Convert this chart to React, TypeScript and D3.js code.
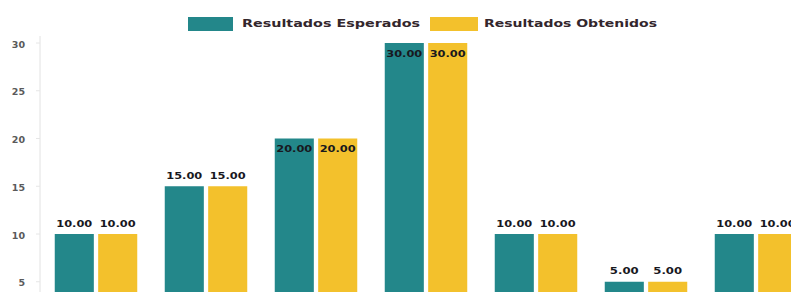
import React from "react";
import * as d3 from "d3";

const categories = ["Indicador 1", "Indicador 2", "Indicador 3", "Indicador 4", "Indicador 5", "Indicador 6", "Indicador 7"];
const esperados = [10, 15, 20, 30, 10, 5, 10];
const obtenidos = [10, 15, 20, 30, 10, 5, 10];
const seriesNames = ["Resultados Esperados", "Resultados Obtenidos"];
const yTicks = [5, 10, 15, 20, 25, 30];

const W = 791;
const H = 292;
const TEAL = "#23878a";
const YELLOW = "#f3c12c";

export default function App() {
  const x = d3.scaleBand<string>().domain(categories).range([41, 811]).paddingInner(0.25).paddingOuter(0.125);
  const xs = d3.scaleBand<string>().domain(seriesNames).range([0, x.bandwidth()]).paddingInner(0.1).paddingOuter(0);
  const y = d3.scaleLinear().domain([0, 30]).range([329.5, 43]);
  const series = [esperados, obtenidos];
  const colors = [TEAL, YELLOW];
  const yTop = y(30);

  return (
    <div style={{ position: "absolute", left: 0, top: 0 }}>
      <svg width={W} height={H} style={{ display: "block", background: "#fff" }}>
        {/* y axis */}
        <line x1={40} x2={40} y1={36} y2={H} stroke="#e2e2e2" strokeWidth={1} />
        {yTicks.map((t) => (
          <g key={t}>
            <line x1={36} x2={40} y1={y(t)} y2={y(t)} stroke="#e6e6e6" />
            <text x={25} y={y(t) + 2} textAnchor="end" dominantBaseline="middle" fontFamily="DejaVu Sans" fontWeight="bold" fontSize={9.5} fill="#5a5a5a">
              {t}
            </text>
          </g>
        ))}
        {/* bars */}
        {categories.map((c, i) => (
          <g key={c}>
            {series.map((s, j) => {
              const bx = (x(c) as number) + (xs(seriesNames[j]) as number);
              const by = y(s[i]);
              const inside = s[i] >= 20;
              const ly = inside ? Math.max(by + 11, yTop + 9) : by - 10;
              const label = s[i].toFixed(2);
              return (
                <g key={j}>
                  <rect x={bx} y={by} width={xs.bandwidth()} height={y(0) - by} fill={colors[j]} />
                  <text
                    x={bx + xs.bandwidth() / 2}
                    y={ly}
                    textAnchor="middle"
                    dominantBaseline="middle"
                    fontFamily="DejaVu Sans"
                    fontWeight="bold"
                    fontSize={9.5}
                    fill="#18181e"
                    textLength={label.length * 7.2}
                    lengthAdjust="spacingAndGlyphs"
                  >
                    {label}
                  </text>
                </g>
              );
            })}
          </g>
        ))}
        {/* legend */}
        <rect x={188} y={17} width={45} height={14} fill={TEAL} />
        <text x={242} y={24} dominantBaseline="middle" fontFamily="DejaVu Sans" fontWeight="bold" fontSize={10} fill="#33262c" textLength={178} lengthAdjust="spacingAndGlyphs">
          {seriesNames[0]}
        </text>
        <rect x={430} y={17} width={48} height={14} fill={YELLOW} />
        <text x={484} y={24} dominantBaseline="middle" fontFamily="DejaVu Sans" fontWeight="bold" fontSize={10} fill="#33262c" textLength={173} lengthAdjust="spacingAndGlyphs">
          {seriesNames[1]}
        </text>
      </svg>
    </div>
  );
}
